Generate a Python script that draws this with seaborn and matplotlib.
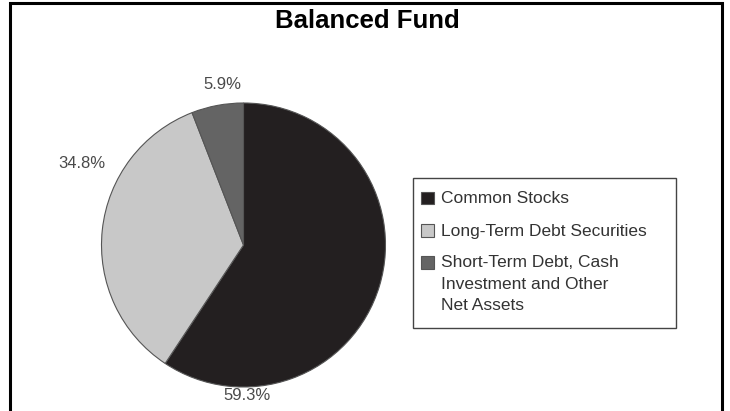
import matplotlib
matplotlib.use("Agg")
import matplotlib.pyplot as plt
from matplotlib.patches import Rectangle
import seaborn as sns

sns.set_theme(style="white")
plt.rcParams["font.family"] = ["Liberation Sans", "DejaVu Sans"]

# Portfolio composition (percent of net assets)
categories = ["Common Stocks", "Long-Term Debt Securities",
              "Short-Term Debt, Cash\nInvestment and Other\nNet Assets"]
shares = [59.3, 34.8, 5.9]
share_labels = ["59.3%", "34.8%", "5.9%"]
colors = ["#231f20", "#c8c8c8", "#646464"]

W, H = 730, 411
fig = plt.figure(figsize=(W / 100, H / 100), dpi=100)
fig.patch.set_facecolor("white")

# Outer frame (open at the bottom edge)
fig.patches.append(Rectangle((9.5 / W, -0.05), (722 - 9.5) / W, (H - 3) / H + 0.05,
                             transform=fig.transFigure, fill=False,
                             edgecolor="black", linewidth=2.2, zorder=0))

fig.text(367 / W, 1 - 21 / H, "Balanced Fund", ha="center", va="center",
         fontsize=18.5, fontweight="bold", color="black")

# Pie axes: centre (243.5, 245) px, radius 142 px
cx, cy, r = 243.5, 245, 142
ax = fig.add_axes([(cx - r) / W, (H - cy - r) / H, 2 * r / W, 2 * r / H])
wedges, _ = ax.pie(shares, colors=colors, startangle=90, counterclock=False,
                   radius=1, wedgeprops=dict(edgecolor="#555555", linewidth=0.8))
ax.set_xlim(-1, 1)
ax.set_ylim(-1, 1)
ax.set_aspect("equal")
ax.axis("off")

# Percentage labels placed around the pie
label_pos = {
    "59.3%": (247, 396),
    "34.8%": (82, 163),
    "5.9%": (222, 85),
}
for lab in share_labels:
    px, py = label_pos[lab]
    ax.text((px - cx) / r, (cy - py) / r, lab, ha="center", va="center",
            fontsize=12, color="#4a4a4a", clip_on=False)

# Legend box
lx0, ly0, lx1, ly1 = 413, 178, 676, 328
fig.patches.append(Rectangle((lx0 / W, 1 - ly1 / H), (lx1 - lx0) / W, (ly1 - ly0) / H,
                             transform=fig.transFigure, fill=False,
                             edgecolor="#444444", linewidth=1.0))
row_y = [198, 231, 262]
for cat, col, y in zip(categories, colors, row_y):
    fig.patches.append(Rectangle((421 / W, 1 - (y + 6.5) / H), 13 / W, 13 / H,
                                 transform=fig.transFigure, facecolor=col,
                                 edgecolor="#555555", linewidth=0.8))
    fig.text(441 / W, 1 - (y - 7) / H, cat, ha="left", va="top",
             fontsize=12.5, color="#333333", linespacing=1.55)

fig.savefig("out.png", dpi=100, facecolor="white")
